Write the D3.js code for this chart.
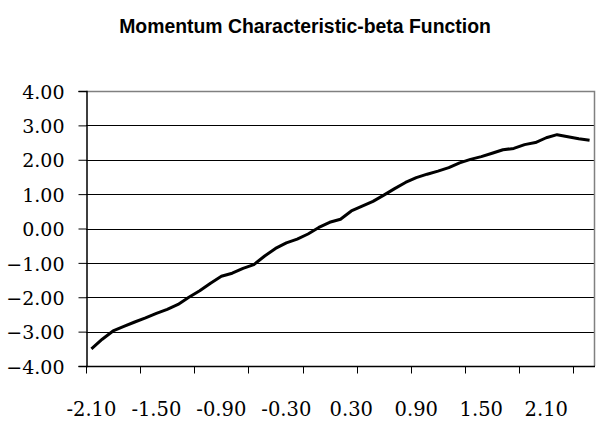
<!DOCTYPE html>
<html>
<head>
<meta charset="utf-8">
<script src="https://cdn.jsdelivr.net/npm/d3@7/dist/d3.min.js"></script>
<style>
  html, body { margin: 0; padding: 0; background: #fff; }
  svg { display: block; }
  .serif { font-family: "DejaVu Serif", "Liberation Serif", "Noto Serif", "Times New Roman", Times, "Nimbus Roman", "Nimbus Roman No9 L", FreeSerif, Tinos, "Noto Serif CJK SC", "Noto Serif CJK JP", serif; }
</style>
</head>
<body>
<svg id="chart" width="597" height="439"></svg>
<script>
const title = "Momentum Characteristic-beta Function";

const categories = [
  "-2.10","-2.00","-1.90","-1.80","-1.70","-1.60","-1.50","-1.40","-1.30","-1.20",
  "-1.10","-1.00","-0.90","-0.80","-0.70","-0.60","-0.50","-0.40","-0.30","-0.20",
  "-0.10","0.00","0.10","0.20","0.30","0.40","0.50","0.60","0.70","0.80",
  "0.90","1.00","1.10","1.20","1.30","1.40","1.50","1.60","1.70","1.80",
  "1.90","2.00","2.10","2.20","2.30","2.40","2.50"
];

const betaValues = [
  -3.50,-3.22,-2.98,-2.85,-2.72,-2.60,-2.47,-2.35,-2.21,-2.00,
  -1.81,-1.59,-1.39,-1.30,-1.16,-1.05,-0.80,-0.58,-0.42,-0.31,
  -0.16,0.03,0.18,0.27,0.51,0.65,0.79,0.97,1.16,1.34,
  1.48,1.58,1.67,1.77,1.91,2.01,2.09,2.19,2.29,2.33,
  2.44,2.50,2.64,2.73,2.67,2.61,2.57
];

const yTicks = [-4, -3, -2, -1, 0, 1, 2, 3, 4];
const xTickLabels = ["-2.10","-1.50","-0.90","-0.30","0.30","0.90","1.50","2.10"];

const svg = d3.select("#chart");
const plot = { left: 86, right: 595, top: 91, bottom: 366 };

const x = d3.scaleBand().domain(categories).range([plot.left, plot.right]).padding(0);
const y = d3.scaleLinear().domain([-4, 4]).range([plot.bottom, plot.top]);

// title
svg.append("text")
  .attr("x", 305).attr("y", 33)
  .attr("text-anchor", "middle")
  .style("font-family", "'Liberation Sans', Arial, sans-serif")
  .attr("font-weight", "bold")
  .attr("font-size", 19.4)
  .attr("fill", "#000")
  .text(title);

// gridlines
svg.append("g").selectAll("line")
  .data(yTicks.filter(d => d > -4 && d < 4))
  .join("line")
  .attr("x1", plot.left).attr("x2", plot.right)
  .attr("y1", d => Math.round(y(d)) + 0.5).attr("y2", d => Math.round(y(d)) + 0.5)
  .attr("stroke", "#000").attr("stroke-width", 1);

// plot border (top/right)
svg.append("path")
  .attr("d", `M${plot.left},${plot.top + 0.5}H${plot.right - 0.5}V${plot.bottom}`)
  .attr("fill", "none").attr("stroke", "#808080").attr("stroke-width", 1.5);

// y axis
const yAxis = d3.axisLeft(y).tickValues(yTicks).tickSize(8).tickPadding(14)
  .tickFormat(d3.format(".2f"));
const gy = svg.append("g").attr("transform", `translate(${plot.left + 0.5},0)`).call(yAxis);
gy.attr("font-family", null).attr("font-size", null);
gy.select(".domain").attr("stroke", "#000").attr("stroke-width", 1.5);
gy.selectAll(".tick line").attr("stroke", "#000");
gy.selectAll("text")
  .attr("class", "serif")
  .style("font-size", "19px").attr("fill", "#000").attr("dy", "0.38em");

// x axis: ticks every 5 categories at band boundaries, labels every 6 categories
const boundaryCats = categories.filter((d, i) => i % 5 === 0);
const gx = svg.append("g").attr("transform", `translate(0,${plot.bottom + 0.5})`);
gx.append("line").attr("x1", plot.left).attr("x2", plot.right)
  .attr("stroke", "#000").attr("stroke-width", 1.5);
gx.selectAll("line.tk").data(boundaryCats).join("line").attr("class", "tk")
  .attr("x1", d => Math.round(x(d)) + 0.5).attr("x2", d => Math.round(x(d)) + 0.5)
  .attr("y1", 0).attr("y2", 7).attr("stroke", "#000");
gx.selectAll("text").data(xTickLabels).join("text")
  .attr("class", "serif")
  .attr("x", d => x(d) + x.bandwidth() / 2)
  .attr("y", 49)
  .attr("text-anchor", "middle")
  .style("font-size", "19.5px").attr("fill", "#000")
  .text(d => d);

// line
const line = d3.line()
  .x((d, i) => x(categories[i]) + x.bandwidth() / 2)
  .y(d => y(d));
svg.append("path").datum(betaValues)
  .attr("d", line)
  .attr("fill", "none").attr("stroke", "#000").attr("stroke-width", 3)
  .attr("stroke-linejoin", "round").attr("stroke-linecap", "butt");
</script>
</body>
</html>
